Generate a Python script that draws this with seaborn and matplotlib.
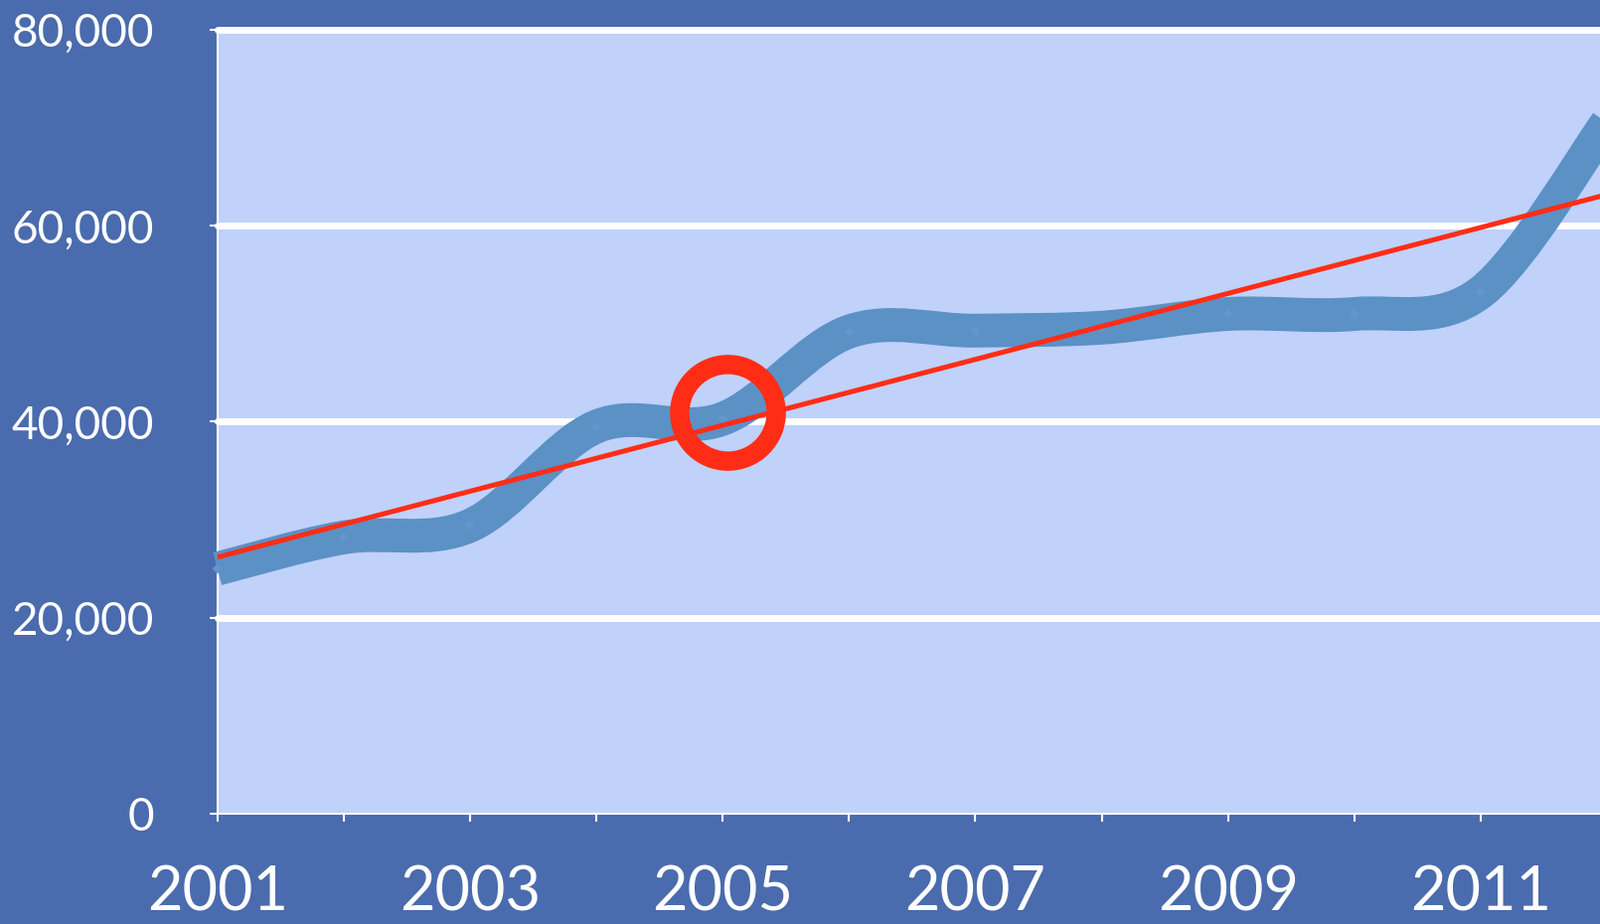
import numpy as np
import pandas as pd
import matplotlib
matplotlib.use("Agg")
import matplotlib.pyplot as plt
from matplotlib.path import Path
from matplotlib.patches import PathPatch
import seaborn as sns

# ---------------- data ----------------
years = [2001, 2002, 2003, 2004, 2005, 2006, 2007, 2008, 2009, 2010, 2011, 2012]
values = [25000, 28200, 29400, 39500, 40300, 49200, 49300, 49600, 51000, 51000, 53200, 70500]
y_ticks = [0, 20000, 40000, 60000, 80000]
y_tick_labels = ["0", "20,000", "40,000", "60,000", "80,000"]
x_tick_labels = ["2001", "", "2003", "", "2005", "", "2007", "", "2009", "", "2011", ""]
highlight_year = [2005.04]
highlight_value = [41000]

# ---------------- style ----------------
BG = "#4a6bad"
PLOT_BG = "#c0d1fa"
LINE = "#5b91c5"
MARK = "#6197cc"
RED = "#ff2d16"

sns.set_theme(style="ticks")
plt.rcParams["font.family"] = ["Lato", "DejaVu Sans"]

df = pd.DataFrame({"year": years, "value": values})

fig = plt.figure(figsize=(16.1, 9.3), dpi=100, facecolor=BG)
ax = fig.add_axes([218.7 / 1610, 111 / 930, (1617 - 218.7) / 1610, 789 / 930])
ax.set_facecolor(PLOT_BG)


def smooth_path(xs, ys, k=1.0):
    pts = np.column_stack([xs, ys]).astype(float)
    n = len(pts)
    verts = [pts[0]]
    codes = [Path.MOVETO]
    for i in range(n - 1):
        p0 = pts[i - 1] if i > 0 else pts[i]
        p1 = pts[i]
        p2 = pts[i + 1]
        p3 = pts[i + 2] if i + 2 < n else pts[i + 1]
        c1 = p1 + (p2 - p0) / 6.0 * k
        c2 = p2 - (p3 - p1) / 6.0 * k
        verts += [c1, c2, p2]
        codes += [Path.CURVE4] * 3
    return Path(verts, codes)


# smoothed thick series line
patch = PathPatch(smooth_path(df["year"], df["value"]), facecolor="none",
                  edgecolor=LINE, lw=24.5, capstyle="butt", joinstyle="round",
                  zorder=3, clip_on=False)
ax.add_patch(patch)

# data point markers
sns.scatterplot(data=df, x="year", y="value", marker="D", s=26, color=MARK,
                edgecolor="none", linewidth=0, zorder=4, clip_on=False,
                legend=False, ax=ax)

# linear trend
sns.regplot(data=df, x="year", y="value", scatter=False, ci=None, truncate=True,
            line_kws=dict(color=RED, lw=3.6, zorder=5, solid_capstyle="butt"), ax=ax)

# highlight ring
ax.plot(highlight_year, highlight_value, marker="o", ms=70, mfc="none",
        mec=RED, mew=14, ls="none", zorder=6, clip_on=False)

ax.set_xlim(2001, 2012)
ax.set_ylim(0, 80000)

ax.set_xticks(years)
ax.set_xticklabels(x_tick_labels)
ax.set_yticks(y_ticks)
ax.set_yticklabels(y_tick_labels)
ax.set_xlabel("")
ax.set_ylabel("")

ax.tick_params(axis="both", colors="white", labelcolor="white", direction="out",
               length=6, width=1.5)
ax.tick_params(axis="y", labelsize=33, pad=40)
ax.tick_params(axis="x", labelsize=44, pad=31)

ax.set_axisbelow(True)
ax.yaxis.grid(True, color="white", lw=5)
ax.xaxis.grid(False)
glines = ax.get_ygridlines()
for gl in glines:
    gl.set_clip_on(False)
glines[0].set_visible(False)

for side in ["top", "right"]:
    ax.spines[side].set_visible(False)
for side in ["left", "bottom"]:
    ax.spines[side].set_color("white")
    ax.spines[side].set_linewidth(1.5)

fig.savefig("out.png", dpi=100, facecolor=BG)
